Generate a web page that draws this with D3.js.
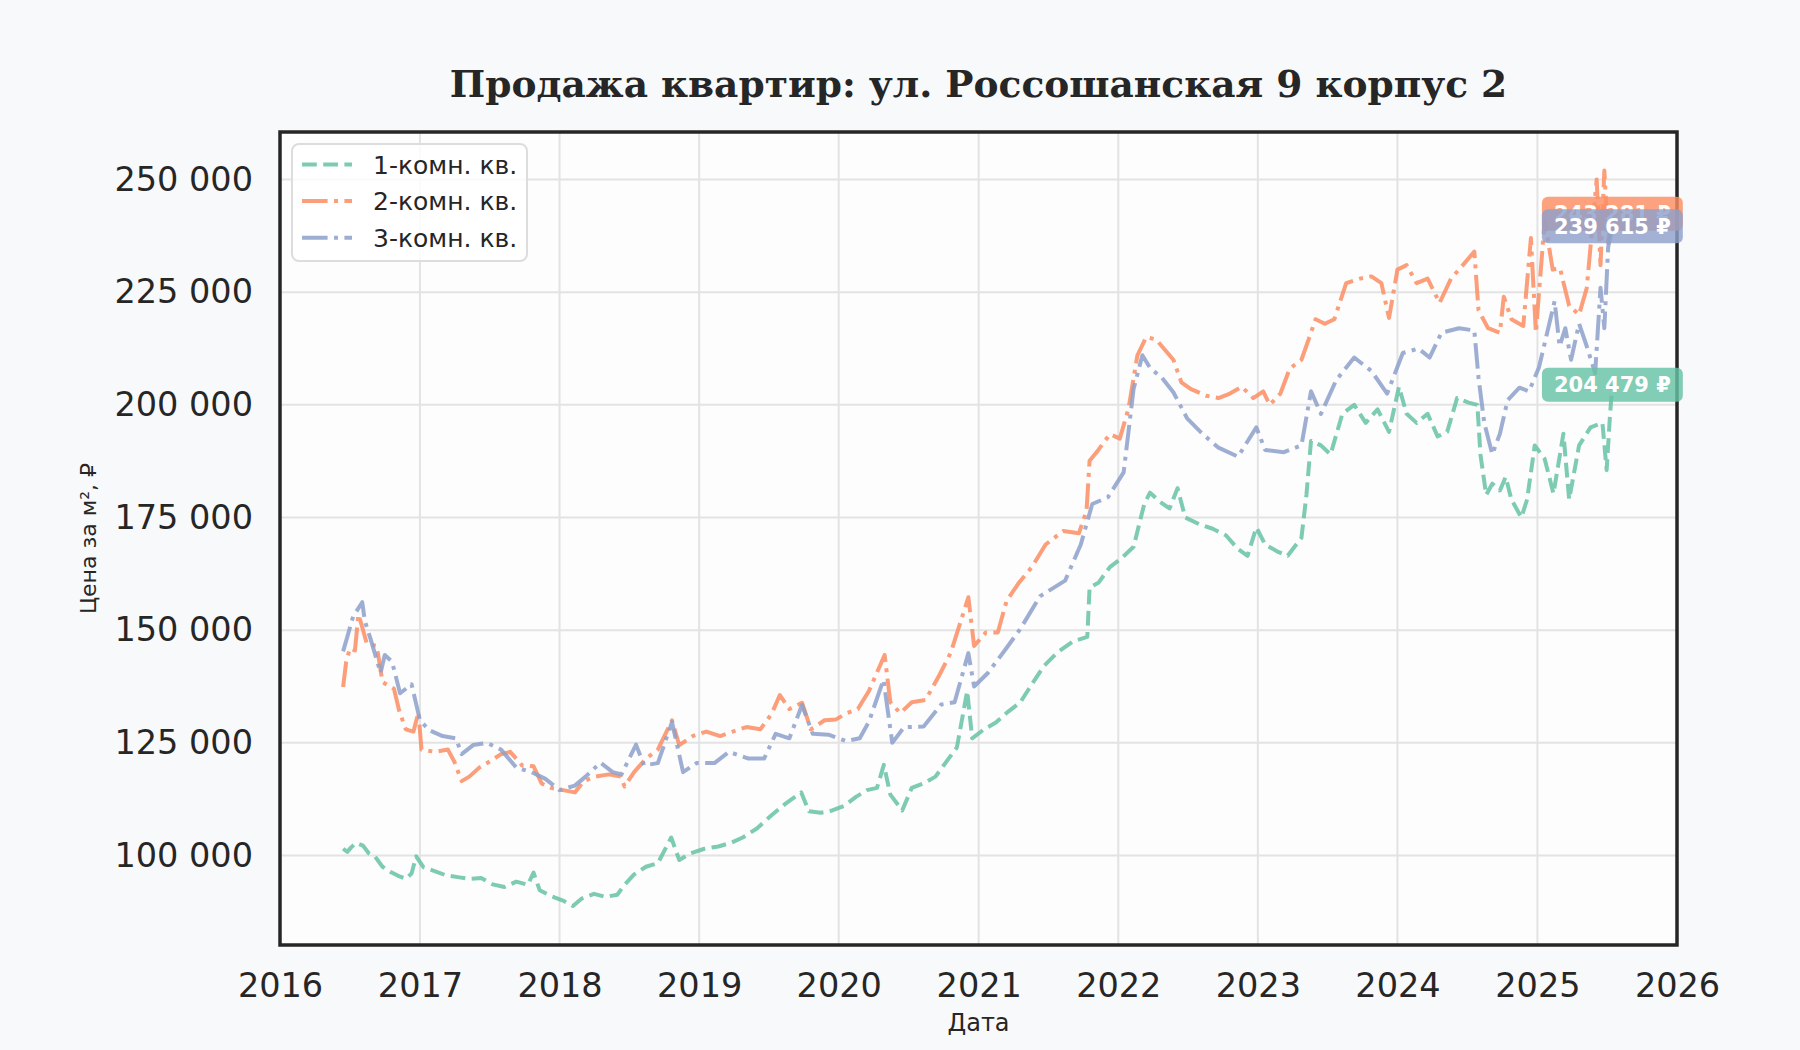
<!DOCTYPE html>
<html><head><meta charset="utf-8">
<script src="https://cdn.jsdelivr.net/npm/d3@7"></script>
<style>html,body{margin:0;padding:0;background:#f8f9fa;} svg{display:block;}</style>
</head><body><svg id="c" width="1800" height="1050"></svg>
<script>
const chartTitle = "Продажа квартир: ул. Россошанская 9 корпус 2";
const xLabel = "Дата";
const yLabel = "Цена за м², ₽";
const seriesNames = ["1-комн. кв.", "2-комн. кв.", "3-комн. кв."];
const seriesColors = ["#66c2a5", "#fc8d62", "#8da0cb"];
const yTicks = [100000, 125000, 150000, 175000, 200000, 225000, 250000];
const xTickYears = [2016, 2017, 2018, 2019, 2020, 2021, 2022, 2023, 2024, 2025, 2026];
const lastLabels = ["204 479 ₽", "243 281 ₽", "239 615 ₽"];

const oneRoom = [["2016-06-14",101500],["2016-06-25",100800],["2016-07-05",101800],["2016-07-18",102800],["2016-08-05",102200],["2016-08-20",100500],["2016-09-05",99800],["2016-09-25",97500],["2016-10-15",96400],["2016-11-05",95500],["2016-11-25",94800],["2016-12-10",96000],["2016-12-22",99800],["2017-01-10",97400],["2017-02-10",96500],["2017-03-10",95600],["2017-04-10",95200],["2017-05-10",94800],["2017-06-10",95000],["2017-07-10",93600],["2017-08-10",93000],["2017-09-10",94200],["2017-10-10",93500],["2017-10-25",96200],["2017-11-10",92300],["2017-12-10",91000],["2018-01-10",90000],["2018-02-05",88800],["2018-03-01",90500],["2018-04-01",91500],["2018-05-01",90800],["2018-06-01",91300],["2018-06-20",93500],["2018-07-15",95800],["2018-08-15",97500],["2018-09-15",98300],["2018-10-20",104000],["2018-11-10",99000],["2018-12-10",100500],["2019-01-15",101500],["2019-02-20",102000],["2019-03-25",102800],["2019-04-25",104000],["2019-06-01",106000],["2019-07-10",109000],["2019-08-15",111500],["2019-09-25",114000],["2019-10-15",109800],["2019-11-15",109500],["2019-12-15",110000],["2020-01-15",111000],["2020-02-15",113000],["2020-03-15",114500],["2020-04-10",115000],["2020-04-28",120100],["2020-05-15",113500],["2020-06-15",110000],["2020-07-10",115000],["2020-08-10",116000],["2020-09-10",117500],["2020-10-10",121000],["2020-11-05",124000],["2020-12-02",136500],["2020-12-15",126000],["2021-01-15",128000],["2021-02-15",129500],["2021-03-20",132000],["2021-04-20",134000],["2021-05-20",138000],["2021-06-20",142000],["2021-07-25",145000],["2021-09-05",147500],["2021-10-12",148500],["2021-10-18",159500],["2021-11-10",160500],["2021-12-10",164000],["2022-01-10",166000],["2022-02-10",168500],["2022-03-10",178000],["2022-03-25",180500],["2022-04-20",178500],["2022-05-15",177000],["2022-06-05",181500],["2022-06-25",175000],["2022-08-01",173500],["2022-09-05",172500],["2022-10-10",171000],["2022-11-10",168000],["2022-12-05",166500],["2022-12-28",172800],["2023-01-20",169000],["2023-02-20",167500],["2023-03-20",166500],["2023-04-25",170500],["2023-05-08",180000],["2023-05-20",192000],["2023-06-15",191000],["2023-07-10",189000],["2023-08-10",198000],["2023-09-10",200000],["2023-10-10",196000],["2023-11-10",199000],["2023-12-10",194000],["2024-01-05",204000],["2024-01-25",198000],["2024-02-20",196000],["2024-03-20",198000],["2024-04-15",193000],["2024-05-10",194000],["2024-06-05",201500],["2024-07-05",200500],["2024-07-28",200000],["2024-08-05",189000],["2024-08-20",180000],["2024-09-05",182500],["2024-09-25",181000],["2024-10-10",184000],["2024-10-25",179000],["2024-11-20",175000],["2024-12-05",179000],["2024-12-25",191000],["2025-01-20",188000],["2025-02-12",180300],["2025-03-10",193600],["2025-03-25",179000],["2025-04-20",191000],["2025-05-20",195000],["2025-06-20",196000],["2025-07-01",185500],["2025-07-10",198000],["2025-07-16",204479]];

const twoRoom = [["2016-06-14",137400],["2016-06-22",143000],["2016-07-02",146000],["2016-07-15",145500],["2016-07-24",153500],["2016-08-02",151000],["2016-08-15",147000],["2016-09-10",146500],["2016-09-25",138500],["2016-10-25",137000],["2016-11-08",132000],["2016-11-25",128000],["2016-12-15",127500],["2016-12-28",131800],["2017-01-05",123500],["2017-02-10",123000],["2017-03-15",123500],["2017-04-01",120800],["2017-04-20",116500],["2017-05-10",117500],["2017-06-05",119500],["2017-07-05",121000],["2017-08-01",122500],["2017-08-25",123000],["2017-09-25",120000],["2017-10-25",119800],["2017-11-15",116000],["2017-12-10",115000],["2018-01-10",114500],["2018-02-10",114000],["2018-03-05",116500],["2018-04-05",117500],["2018-05-10",118000],["2018-06-10",117500],["2018-06-20",115300],["2018-07-15",118500],["2018-08-15",121500],["2018-09-15",123500],["2018-10-22",130000],["2018-11-10",124500],["2018-12-15",126500],["2019-01-20",127500],["2019-02-25",126500],["2019-03-30",127500],["2019-05-05",128500],["2019-06-10",128000],["2019-07-10",131500],["2019-07-31",135600],["2019-08-25",132500],["2019-09-27",133900],["2019-10-20",128000],["2019-11-25",130000],["2019-12-25",130200],["2020-01-20",131500],["2020-02-20",132500],["2020-03-20",136500],["2020-04-30",144500],["2020-05-15",134000],["2020-06-10",131600],["2020-07-10",134000],["2020-08-15",134500],["2020-09-20",140000],["2020-10-20",145000],["2020-12-05",157300],["2020-12-20",146500],["2021-01-20",149500],["2021-02-20",149500],["2021-03-15",156500],["2021-04-15",160400],["2021-05-20",164000],["2021-06-25",169000],["2021-08-10",172000],["2021-09-20",171500],["2021-10-10",176500],["2021-10-18",187600],["2021-11-10",190000],["2021-12-10",193500],["2022-01-05",192500],["2022-01-28",199300],["2022-02-20",211000],["2022-03-15",215000],["2022-04-10",214500],["2022-05-05",212000],["2022-05-25",210000],["2022-06-15",205000],["2022-07-10",203500],["2022-08-20",202000],["2022-09-20",201500],["2022-10-20",202500],["2022-11-20",204000],["2022-12-20",201500],["2023-01-15",203000],["2023-02-01",200000],["2023-03-01",202500],["2023-03-25",208000],["2023-04-25",210000],["2023-05-15",214800],["2023-06-01",219000],["2023-06-25",218000],["2023-07-20",219000],["2023-08-20",227000],["2023-09-25",228000],["2023-10-25",228500],["2023-11-20",227000],["2023-12-10",219300],["2024-01-01",230000],["2024-01-25",231000],["2024-02-20",227000],["2024-03-20",228000],["2024-04-20",222600],["2024-05-20",228000],["2024-06-20",231000],["2024-07-20",234000],["2024-07-31",221000],["2024-08-25",217000],["2024-09-25",216000],["2024-10-05",224000],["2024-10-25",219000],["2024-11-25",217500],["2024-12-15",237000],["2024-12-28",216000],["2025-01-20",241000],["2025-02-10",230000],["2025-03-01",230300],["2025-03-25",222000],["2025-04-20",220000],["2025-05-10",225900],["2025-06-05",250000],["2025-06-15",231000],["2025-06-25",252000],["2025-07-05",236000],["2025-07-16",243281]];

const threeRoom = [["2016-06-14",145300],["2016-06-25",148500],["2016-07-10",153000],["2016-08-03",156200],["2016-08-10",152000],["2016-08-25",148000],["2016-09-20",140500],["2016-10-01",144500],["2016-10-20",143000],["2016-11-10",136000],["2016-12-10",138000],["2017-01-01",130000],["2017-01-25",127800],["2017-03-01",126500],["2017-04-05",126000],["2017-04-20",122500],["2017-05-20",124500],["2017-06-25",125000],["2017-08-01",123500],["2017-09-10",119500],["2017-10-20",118500],["2017-11-25",117000],["2018-01-01",114500],["2018-02-10",115500],["2018-03-10",117500],["2018-04-18",120600],["2018-05-20",118500],["2018-06-12",118000],["2018-07-20",124600],["2018-08-10",120000],["2018-09-15",120500],["2018-10-22",129600],["2018-11-20",118500],["2018-12-25",120500],["2019-02-10",120500],["2019-03-20",123000],["2019-05-10",121500],["2019-06-20",121500],["2019-07-20",127000],["2019-08-25",126000],["2019-09-27",133400],["2019-10-25",127000],["2019-12-05",126800],["2020-01-20",125400],["2020-02-25",126000],["2020-03-20",129700],["2020-04-27",139000],["2020-05-20",125000],["2020-06-20",128500],["2020-08-10",128600],["2020-09-25",133500],["2020-10-30",134000],["2020-12-05",144900],["2020-12-20",137500],["2021-01-25",140500],["2021-03-10",145500],["2021-04-20",150300],["2021-06-10",157500],["2021-08-15",161000],["2021-09-25",169000],["2021-10-25",178000],["2021-12-05",179500],["2022-01-15",185000],["2022-02-10",203500],["2022-03-05",211000],["2022-03-25",208200],["2022-04-25",206000],["2022-05-25",202800],["2022-06-30",197000],["2022-08-10",193500],["2022-09-20",190500],["2022-11-10",188500],["2022-12-28",195000],["2023-01-20",190000],["2023-03-10",189500],["2023-04-25",191000],["2023-05-20",203000],["2023-06-15",198000],["2023-07-25",205500],["2023-09-10",210500],["2023-10-25",207500],["2023-12-05",202500],["2024-01-15",211500],["2024-02-25",212500],["2024-03-25",210500],["2024-04-25",216000],["2024-06-10",217000],["2024-07-20",216500],["2024-07-31",206000],["2024-08-15",196000],["2024-09-05",189000],["2024-09-25",193600],["2024-10-15",201000],["2024-11-15",203800],["2024-12-10",203000],["2025-01-05",208300],["2025-02-15",223000],["2025-02-28",213000],["2025-03-15",217000],["2025-03-30",210000],["2025-04-20",218000],["2025-05-10",213000],["2025-06-01",207000],["2025-06-15",226000],["2025-06-25",217000],["2025-07-05",235000],["2025-07-16",239615]];

const allSeries = [oneRoom, twoRoom, threeRoom];
const dashes = ["14.8,6.4", "25.6,6.4,4,6.4", "25.6,6.4,4,6.4"];
const labelNudge = [0, 4, 0];

const W = 1800, H = 1050;
const L = 280, R = 1677, T = 132, B = 945;
const parse = d3.utcParse("%Y-%m-%d");
const svg = d3.select("#c");
const FONT = "'DejaVu Sans', 'Noto Sans', sans-serif";
const INK = "#262626";

svg.append("rect").attr("width", W).attr("height", H).attr("fill", "#f8f9fa");

const x = d3.scaleUtc().domain([Date.UTC(2016,0,1), Date.UTC(2026,0,1)]).range([L, R]);
const y = d3.scaleLinear().domain([80140, 260540]).range([B, T]);

const loc = d3.formatLocale({decimal: ",", thousands: " ", grouping: [3], currency: ["", ""]});
const fmt = loc.format(",d");

svg.append("rect").attr("x", L).attr("y", T).attr("width", R - L).attr("height", B - T).attr("fill", "#fdfdfd");

// grid
const gridG = svg.append("g");
gridG.selectAll("line.h").data(yTicks).join("line")
  .attr("x1", L).attr("x2", R).attr("y1", d => y(d)).attr("y2", d => y(d))
  .attr("stroke", "#e3e3e3").attr("stroke-width", 2);
gridG.selectAll("line.v").data(xTickYears).join("line")
  .attr("x1", d => x(Date.UTC(d,0,1))).attr("x2", d => x(Date.UTC(d,0,1)))
  .attr("y1", T).attr("y2", B)
  .attr("stroke", "#e3e3e3").attr("stroke-width", 2);

// axes
const yAxis = d3.axisLeft(y).tickValues(yTicks).tickFormat(fmt).tickSize(0).tickPadding(27);
const gy = svg.append("g").attr("transform", `translate(${L},0)`).call(yAxis);
gy.select(".domain").remove();
gy.selectAll("text").attr("font-family", FONT).attr("font-size", 33.5).attr("fill", INK);

const xAxis = d3.axisBottom(x).tickValues(xTickYears.map(d => new Date(Date.UTC(d,0,1)))).tickFormat(d3.utcFormat("%Y")).tickSize(0).tickPadding(28);
const gx = svg.append("g").attr("transform", `translate(0,${B})`).call(xAxis);
gx.select(".domain").remove();
gx.selectAll("text").attr("font-family", FONT).attr("font-size", 33.5).attr("fill", INK);

// clip
svg.append("clipPath").attr("id", "clip").append("rect").attr("x", L).attr("y", T).attr("width", R - L).attr("height", B - T);

const line = d3.line().x(d => x(parse(d[0]))).y(d => y(d[1]));
const linesG = svg.append("g").attr("clip-path", "url(#clip)");
allSeries.forEach((s, i) => {
  linesG.append("path").datum(s).attr("d", line)
    .attr("fill", "none").attr("stroke", seriesColors[i]).attr("stroke-width", 4)
    .attr("stroke-opacity", 0.85).attr("stroke-dasharray", dashes[i])
    .attr("stroke-linejoin", "round");
});

// frame
svg.append("rect").attr("x", L).attr("y", T).attr("width", R - L).attr("height", B - T)
  .attr("fill", "none").attr("stroke", INK).attr("stroke-width", 3.5);

// title & labels
svg.append("text").attr("x", (L + R) / 2).attr("y", 97).attr("text-anchor", "middle")
  .attr("font-family", "'DejaVu Serif', serif").attr("font-weight", "bold").attr("font-size", 37.5)
  .attr("fill", INK).text(chartTitle);
svg.append("text").attr("x", (L + R) / 2).attr("y", 1031).attr("text-anchor", "middle")
  .attr("font-family", FONT).attr("font-size", 24).attr("fill", INK).text(xLabel);
svg.append("text").attr("transform", `translate(96,${(T + B) / 2}) rotate(-90)`).attr("text-anchor", "middle")
  .attr("font-family", FONT).attr("font-size", 22).attr("fill", INK).text(yLabel);

// legend
const lg = svg.append("g");
lg.append("rect").attr("x", 292).attr("y", 144).attr("width", 235).attr("height", 117).attr("rx", 7)
  .attr("fill", "#ffffff").attr("fill-opacity", 0.8).attr("stroke", "#dddddd").attr("stroke-width", 2);
seriesNames.forEach((n, i) => {
  const yy = 164.5 + i * 36.6;
  lg.append("line").attr("x1", 302).attr("x2", 352).attr("y1", yy).attr("y2", yy)
    .attr("stroke", seriesColors[i]).attr("stroke-width", 4).attr("stroke-opacity", 0.85)
    .attr("stroke-dasharray", dashes[i]);
  lg.append("text").attr("x", 373).attr("y", yy).attr("dy", "0.36em")
    .attr("font-family", FONT).attr("font-size", 25).attr("fill", INK).text(n);
});

// last value labels: orange, blue, green order
[1, 2, 0].forEach(i => {
  const s = allSeries[i];
  const last = s[s.length - 1];
  const cx = x(parse(last[0])), cy = y(last[1]) + labelNudge[i];
  const g = svg.append("g");
  const rect = g.append("rect");
  const t = g.append("text").attr("x", cx).attr("y", cy).attr("dy", "0.36em").attr("text-anchor", "middle")
    .attr("font-family", FONT).attr("font-weight", "bold").attr("font-size", 21).attr("fill", "#ffffff")
    .text(lastLabels[i]);
  const bb = t.node().getBBox();
  rect.attr("x", bb.x - 12).attr("y", cy - 17).attr("width", bb.width + 24).attr("height", 34).attr("rx", 6)
    .attr("fill", seriesColors[i]).attr("fill-opacity", 0.82);
});
</script></body></html>
